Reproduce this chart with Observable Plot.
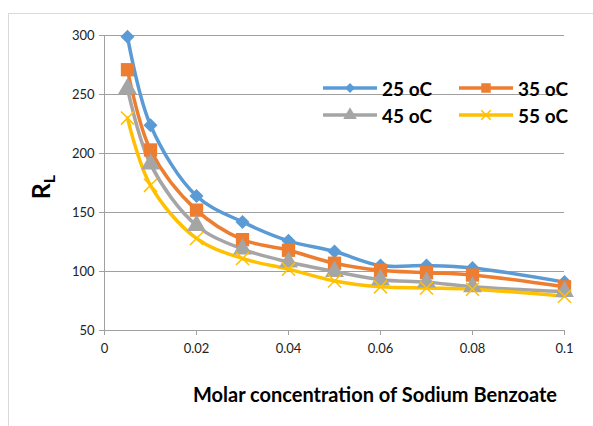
<!DOCTYPE html>
<html><head><meta charset="utf-8">
<script src="https://cdn.jsdelivr.net/npm/d3@7"></script>
<script src="https://cdn.jsdelivr.net/npm/@observablehq/plot@0.6"></script>
<style>
body{margin:0;background:#fff;font-family:Lato,"Open Sans",sans-serif;}
#wrap{position:relative;width:593px;height:426px;overflow:hidden;}
#frame{position:absolute;left:8px;top:13px;width:620px;height:440px;border:1px solid #d9d9d9;box-sizing:border-box;}
#legend{position:absolute;left:322px;top:77px;display:grid;grid-template-columns:136px 120px;row-gap:5px;font-weight:bold;font-size:19px;color:#000;white-space:nowrap;}
#legend div{display:flex;align-items:center;height:22px;white-space:nowrap;}
#legend svg{margin-right:4px;flex:none;}
</style></head>
<body><div id="wrap"><div id="frame"></div><div id="chart"></div><div id="legend"></div></div>
<script>
const conc = [0.005, 0.01, 0.02, 0.03, 0.04, 0.05, 0.06, 0.07, 0.08, 0.1];
const t25 = [299, 224, 164, 142, 126, 117, 105, 105, 103, 91];
const t35 = [271, 203, 152, 127, 118, 107, 101, 99, 97, 87];
const t45 = [255, 191, 139, 119, 108, 100, 93, 91, 87, 83];
const t55 = [230, 173, 128, 111, 102, 92, 87, 86, 85, 79];
const seriesNames = ["25 oC", "35 oC", "45 oC", "55 oC"];
const colors = ["#5B9BD5", "#ED7D31", "#A5A5A5", "#FFC000"];
const symbols = ["square", "square", "triangle", "times"];
const rotations = [45, 0, 0, 0];
const xTicks = [0, 0.02, 0.04, 0.06, 0.08, 0.1];
const yTicks = [50, 100, 150, 200, 250, 300];

const all = [t25, t35, t45, t55];
const rows = [];
all.forEach((vals, si) => vals.forEach((v, i) => rows.push({s: seriesNames[si], x: conc[i], y: v})));

const marks = [
  Plot.gridY(yTicks, {stroke: "#a0a0a0", strokeOpacity: 1, strokeWidth: 1}),
  Plot.axisY(yTicks, {tickSize: 5, tickPadding: 5, fontSize: 13, stroke: "#a0a0a0", color: "#222", label: null}),
  Plot.axisX(xTicks, {tickSize: 5, tickPadding: 8, fontSize: 13, stroke: "#a0a0a0", color: "#222", label: null, tickFormat: d => String(d)}),
  Plot.ruleX([0], {stroke: "#a0a0a0"}),
  Plot.ruleY([50], {stroke: "#a0a0a0"})
];
seriesNames.forEach((name, si) => {
  const d = rows.filter(r => r.s === name);
  marks.push(Plot.line(d, {x: "x", y: "y", stroke: colors[si], strokeWidth: 3.5, curve: "catmull-rom"}));
});
seriesNames.forEach((name, si) => {
  const d = rows.filter(r => r.s === name);
  const sym = symbols[si];
  if (sym === "times") {
    marks.push(Plot.dot(d, {x: "x", y: "y", symbol: sym, r: 6, stroke: colors[si], strokeWidth: 1.5, fill: "none"}));
  } else {
    marks.push(Plot.dot(d, {x: "x", y: "y", symbol: sym, rotate: rotations[si],
      r: si === 0 ? 5.6 : (sym === "square" ? 7.5 : 7), fill: colors[si], stroke: "none"}));
  }
});

const chart = Plot.plot({
  width: 593, height: 426,
  marginLeft: 104, marginRight: 29, marginTop: 35, marginBottom: 96,
  x: {domain: [0, 0.1]},
  y: {domain: [50, 300]},
  style: {fontFamily: "Lato, 'Open Sans', sans-serif", background: "transparent", overflow: "visible"},
  marks
});
document.getElementById("chart").appendChild(chart);
chart.style.position = "absolute"; chart.style.left = "0"; chart.style.top = "0";

const svg = d3.select(chart);
const yl = svg.append("text").attr("transform", "translate(50,187) rotate(-90)")
  .attr("text-anchor", "middle").attr("font-weight", "bold").attr("font-size", 25).attr("fill", "#000")
  .attr("font-family", "Lato, sans-serif");
yl.append("tspan").text("R");
yl.append("tspan").attr("font-size", 16).attr("dy", 5).text("L");
svg.append("text").attr("x", 375).attr("y", 402).attr("text-anchor", "middle")
  .attr("font-weight", "bold").attr("font-size", 20).attr("fill", "#000")
  .attr("font-family", "Lato, sans-serif").text("Molar concentration of Sodium Benzoate");

const leg = d3.select("#legend");
seriesNames.forEach((name, si) => {
  const item = leg.append("div");
  const s = item.append("svg").attr("width", 56).attr("height", 16);
  s.append("line").attr("x1", 1).attr("x2", 55).attr("y1", 8).attr("y2", 8).attr("stroke", colors[si]).attr("stroke-width", 3.5);
  const sym = d3.symbol().type([d3.symbolSquare, d3.symbolSquare, d3.symbolTriangle, d3.symbolTimes][si]).size([50, 90, 80, 60][si]);
  s.append("path").attr("d", sym()).attr("transform", `translate(28,8) rotate(${rotations[si]})`)
    .attr("fill", si === 3 ? "none" : colors[si]).attr("stroke", si === 3 ? colors[si] : "none").attr("stroke-width", 1.5);
  item.append("span").text(name);
});
</script></body></html>
